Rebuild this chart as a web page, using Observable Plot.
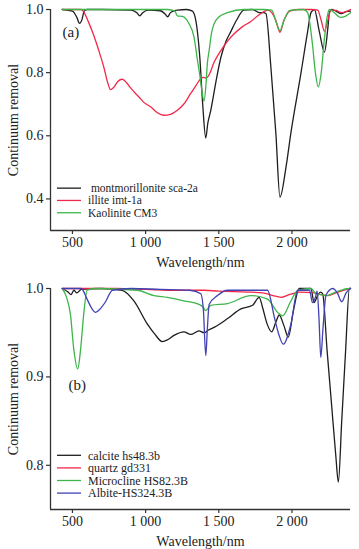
<!DOCTYPE html>
<html>
<head>
<meta charset="utf-8">
<script src="https://cdn.jsdelivr.net/npm/d3@7"></script>
<script src="https://cdn.jsdelivr.net/npm/@observablehq/plot@0.6"></script>
<style>
  html, body { margin: 0; padding: 0; background: #fff; }
  #wrap { position: relative; width: 359px; height: 549px; background: #fff; overflow: hidden; }
  #wrap > div, #wrap > svg { position: absolute; }
</style>
</head>
<body>
<div id="wrap"></div>
<script>
// ---------- shared axis data ----------
const xTicks = [500, 1000, 1500, 2000];
const xTickLabels = ["500", "1 000", "1 500", "2 000"];
const xDomain = [350, 2400];

// ---------- panel (a) ----------
const yTicksA = [1.0, 0.8, 0.6, 0.4];
const yTickLabelsA = ["1.0", "0.8", "0.6", "0.4"];
const yDomainA = [0.3, 1.0];
const namesA = ["montmorillonite sca-2a", "illite imt-1a", "Kaolinite CM3"];
const colorsA = ["#1e1e1e", "#f2284a", "#3db54a"];

const montWl  = [430, 500, 530, 548, 565, 580, 600, 700, 900, 940, 960, 980, 1020, 1100, 1135, 1150, 1170, 1190, 1220, 1280, 1320, 1345, 1370, 1390, 1411, 1425, 1445, 1480, 1514, 1550, 1582, 1620, 1671, 1730, 1776, 1805, 1822, 1856, 1890, 1918, 1959, 1993, 2062, 2107, 2130, 2153, 2187, 2222, 2245, 2256, 2270, 2300, 2336, 2370, 2400];
const montVal = [1.0, 0.995, 0.975, 0.956, 0.968, 0.995, 1.0, 1.0, 0.998, 0.99, 0.98, 0.99, 0.998, 0.996, 0.985, 0.977, 0.99, 0.995, 0.998, 1.0, 0.995, 0.96, 0.85, 0.70, 0.593, 0.64, 0.68, 0.77, 0.848, 0.90, 0.93, 0.965, 0.998, 1.0, 0.99, 0.99, 0.987, 0.817, 0.608, 0.406, 0.50, 0.61, 0.80, 0.93, 0.99, 1.0, 0.93, 0.865, 0.94, 0.99, 1.0, 0.995, 0.987, 0.993, 0.995];

const illWl  = [430, 560, 580, 610, 644, 680, 714, 740, 760, 780, 810, 840, 870, 900, 954, 990, 1034, 1080, 1125, 1170, 1217, 1260, 1308, 1345, 1377, 1395, 1411, 1430, 1470, 1514, 1560, 1605, 1660, 1719, 1780, 1836, 1862, 1890, 1918, 1945, 1985, 2041, 2130, 2176, 2200, 2222, 2245, 2265, 2300, 2340, 2370, 2400];
const illVal = [1.0, 1.0, 0.99, 0.96, 0.92, 0.87, 0.818, 0.77, 0.746, 0.752, 0.772, 0.779, 0.768, 0.75, 0.723, 0.705, 0.692, 0.673, 0.665, 0.668, 0.681, 0.70, 0.734, 0.76, 0.781, 0.785, 0.783, 0.79, 0.835, 0.87, 0.90, 0.923, 0.945, 0.962, 0.985, 0.998, 0.99, 0.965, 0.928, 0.965, 0.995, 1.0, 1.0, 0.998, 0.965, 0.931, 0.965, 0.998, 0.997, 0.99, 0.993, 1.0];

const kaoWl  = [430, 1150, 1200, 1217, 1251, 1297, 1331, 1354, 1372, 1385, 1399, 1412, 1422, 1434, 1450, 1468, 1500, 1560, 1672, 1800, 1862, 1890, 1918, 1945, 1985, 2080, 2107, 2140, 2160, 2180, 2200, 2220, 2240, 2256, 2290, 2330, 2370, 2400];
const kaoVal = [1.0, 1.0, 0.995, 0.98, 0.978, 0.955, 0.912, 0.84, 0.786, 0.74, 0.71, 0.76, 0.83, 0.87, 0.925, 0.955, 0.976, 0.99, 1.0, 1.0, 0.998, 0.963, 0.933, 0.965, 0.997, 1.0, 0.99, 0.89, 0.80, 0.755, 0.80, 0.90, 0.975, 1.0, 0.99, 0.975, 0.98, 0.99];

// ---------- panel (b) ----------
const yTicksB = [1.0, 0.9, 0.8];
const yTickLabelsB = ["1.0", "0.9", "0.8"];
const yDomainB = [0.75, 1.0];
const namesB = ["calcite hs48.3b", "quartz gd331", "Microcline HS82.3B", "Albite-HS324.3B"];
const colorsB = ["#1e1e1e", "#f2284a", "#3db54a", "#4242b4"];

const calWl  = [430, 470, 490, 510, 530, 560, 700, 840, 920, 1011, 1060, 1114, 1150, 1194, 1262, 1308, 1365, 1400, 1430, 1468, 1560, 1651, 1731, 1776, 1800, 1830, 1861, 1890, 1913, 1945, 1975, 2010, 2050, 2130, 2151, 2175, 2195, 2210, 2240, 2270, 2300, 2317, 2340, 2365, 2393, 2400];
const calVal = [1.0, 0.996, 0.993, 0.998, 0.995, 0.999, 1.0, 0.998, 0.986, 0.96, 0.949, 0.94, 0.942, 0.947, 0.951, 0.948, 0.952, 0.95, 0.953, 0.956, 0.966, 0.977, 0.981, 0.99, 0.978, 0.96, 0.951, 0.962, 0.97, 0.958, 0.945, 0.975, 1.0, 1.0, 0.984, 0.992, 0.996, 0.994, 0.93, 0.87, 0.81, 0.781, 0.85, 0.925, 1.0, 1.0];

const qtzWl  = [430, 800, 1000, 1200, 1400, 1500, 1700, 1800, 1870, 1925, 1980, 2050, 2150, 2200, 2247, 2300, 2350, 2400];
const qtzVal = [1.0, 1.0, 0.999, 0.998, 0.998, 0.997, 0.996, 0.995, 0.992, 0.99, 0.993, 0.996, 0.995, 0.993, 0.992, 0.995, 0.998, 1.0];

const micWl  = [430, 460, 486, 510, 536, 555, 577, 600, 650, 943, 1057, 1148, 1262, 1365, 1392, 1411, 1445, 1560, 1719, 1833, 1902, 1936, 1990, 2039, 2130, 2164, 2200, 2233, 2300, 2393, 2400];
const micVal = [1.0, 0.99, 0.971, 0.93, 0.909, 0.93, 0.971, 0.998, 1.0, 0.998, 0.992, 0.99, 0.986, 0.982, 0.979, 0.975, 0.981, 0.983, 0.992, 0.988, 0.973, 0.969, 0.985, 0.998, 1.0, 0.994, 0.993, 0.992, 0.996, 1.0, 1.0];

const albWl  = [430, 560, 600, 630, 658, 690, 726, 772, 900, 1100, 1300, 1377, 1395, 1411, 1422, 1434, 1491, 1560, 1833, 1879, 1910, 1941, 1993, 2039, 2120, 2140, 2160, 2172, 2185, 2197, 2212, 2233, 2279, 2310, 2340, 2370, 2400];
const albVal = [1.0, 1.0, 0.988, 0.978, 0.973, 0.977, 0.985, 0.998, 1.0, 0.999, 0.998, 0.994, 0.975, 0.924, 0.955, 0.982, 0.992, 0.998, 0.998, 0.968, 0.948, 0.937, 0.96, 0.998, 0.998, 0.984, 0.99, 0.997, 0.965, 0.922, 0.955, 0.993, 1.0, 0.995, 0.985, 0.995, 1.0];

const seriesA = [[montWl, montVal], [illWl, illVal], [kaoWl, kaoVal]];
const seriesB = [[calWl, calVal], [qtzWl, qtzVal], [micWl, micVal], [albWl, albVal]];

const FONT = "'Liberation Serif', 'Times New Roman', Times, serif";
const AX = "#333";

function toRows(series, names) {
  return series.flatMap(([wl, v], k) => wl.map((w, i) => ({name: names[k], w, v: v[i]})));
}

function panel({series, names, colors, yDomain, yTicks, yTickLabels, height, marginTop, marginBottom, tag, tagDx, tagDy}) {
  const rows = toRows(series, names);
  return Plot.plot({
    width: 359, height,
    marginLeft: 50, marginRight: 9, marginTop, marginBottom,
    style: {fontFamily: FONT, fontSize: "14px", color: "#222", background: "#fff", overflow: "visible"},
    x: {domain: xDomain},
    y: {domain: yDomain},
    color: {domain: names, range: colors},
    marks: [
      Plot.axisX({ticks: xTicks, tickFormat: d => xTickLabels[xTicks.indexOf(d)], tickSize: 4, tickPadding: 3,
        stroke: AX, strokeWidth: 1.2, fontSize: 14,
        label: "Wavelength/nm", labelAnchor: "center", labelArrow: "none", labelOffset: 36}),
      Plot.axisY({ticks: yTicks, tickFormat: d => yTickLabels[yTicks.indexOf(d)], tickSize: 4, tickPadding: 3,
        stroke: AX, strokeWidth: 1.2, fontSize: 14,
        label: "Continuum removal", labelAnchor: "center", labelArrow: "none", labelOffset: 42}),
      Plot.ruleX([xDomain[0]], {y1: yDomain[0], y2: yDomain[1], stroke: AX, strokeWidth: 1.3}),
      Plot.ruleY([yDomain[0]], {stroke: AX, strokeWidth: 1.3}),
      Plot.line(rows, {x: "w", y: "v", z: "name", stroke: "name", strokeWidth: 1.3, curve: "monotone-x"}),
      Plot.text([tag], {text: d => d, frameAnchor: "top-left", dx: tagDx, dy: tagDy, textAnchor: "start", lineAnchor: "middle", fontSize: 15, fill: "#222"})
    ]
  });
}

function legend(names, colors, rowH, fontSize) {
  const h = rowH * names.length + 4;
  const svg = d3.create("svg").attr("width", 170).attr("height", h)
    .style("font-family", FONT).style("font-size", fontSize + "px");
  names.forEach((n, i) => {
    const y = 2 + rowH * i + rowH / 2;
    svg.append("line").attr("x1", 0).attr("x2", 24).attr("y1", y).attr("y2", y)
      .attr("stroke", colors[i]).attr("stroke-width", 1.3);
    svg.append("text").attr("x", 31).attr("y", y).attr("dy", "0.35em").attr("fill", "#222")
      .style("white-space", "pre").text(n);
  });
  return svg.node();
}

const wrap = document.getElementById("wrap");

const pa = panel({series: seriesA, names: namesA, colors: colorsA, yDomain: yDomainA, yTicks: yTicksA, yTickLabels: yTickLabelsA,
  height: 272, marginTop: 9, marginBottom: 42, tag: "(a)", tagDx: 12, tagDy: 23});
pa.style.left = "0px"; pa.style.top = "0px";
wrap.appendChild(pa);

const pb = panel({series: seriesB, names: namesB, colors: colorsB, yDomain: yDomainB, yTicks: yTicksB, yTickLabels: yTickLabelsB,
  height: 277, marginTop: 16, marginBottom: 40, tag: "(b)", tagDx: 18, tagDy: 97});
pb.style.left = "0px"; pb.style.top = "272px";
wrap.appendChild(pb);

const rowA = 12.3;
const la = legend([" montmorillonite sca-2a", "illite imt-1a", "Kaolinite CM3"], colorsA, rowA, 11.5);
la.style.left = "57px"; la.style.top = (188.5 - 2 - rowA / 2) + "px";
wrap.appendChild(la);

const rowB = 12.6;
const lb = legend(namesB, colorsB, rowB, 12);
lb.style.left = "57px"; lb.style.top = (455 - 2 - rowB / 2) + "px";
wrap.appendChild(lb);
</script>
</body>
</html>
